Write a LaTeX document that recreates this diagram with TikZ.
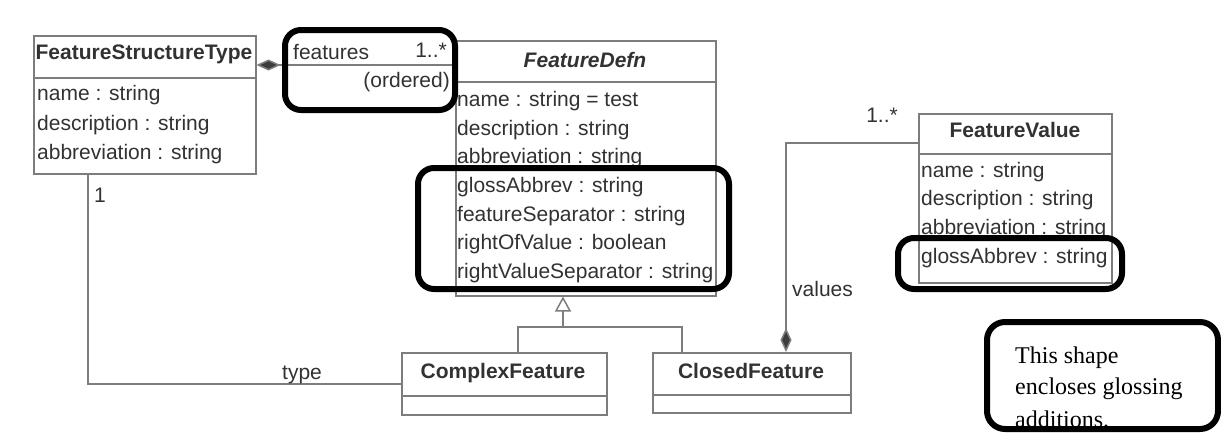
\documentclass[tikz,border=0pt]{standalone}
\usepackage{fontspec}
\setmainfont{Liberation Sans}
\newfontfamily\notefont{Liberation Serif}
\usetikzlibrary{arrows.meta,calc}
\definecolor{umlgray}{RGB}{125,125,125}
\definecolor{umltext}{RGB}{50,50,50}
\definecolor{diamondfill}{RGB}{60,60,60}
\begin{document}
\begin{tikzpicture}[x=1pt,y=-1pt,
  umlbox/.style={draw=umlgray, line width=1.5pt, fill=white, rectangle, inner sep=0pt, anchor=north west},
  umlline/.style={draw=umlgray, line width=1.5pt},
  cls/.style={font=\fontsize{21pt}{25pt}\selectfont\bfseries, text=umltext, inner sep=0pt, anchor=base},
  attr/.style={font=\fontsize{21pt}{25pt}\selectfont, text=umltext, inner sep=0pt, anchor=base west},
  lbl/.style={font=\fontsize{21pt}{25pt}\selectfont, text=umltext, inner sep=0pt},
  hilite/.style={draw=black, line width=6pt, rounded corners=16pt},
  comp/.style={{Diamond[fill=diamondfill, length=24pt, width=11pt]}-},
  gen/.style={-{Triangle[open, fill=white, length=15pt, width=16pt]}},
  notetext/.style={font=\notefont\fontsize{24pt}{31pt}\selectfont, inner sep=0pt, anchor=base west}
]
\useasboundingbox (0,0) rectangle (1221,432);

% ---------- FeatureStructureType ----------
\node[umlbox, minimum width=222pt, minimum height=138pt] (fst) at (33,35) {};
\draw[umlline] (33,78) -- (255,78);
\node[cls] (fstT) at (144,59) {FeatureStructureType};
\node[attr] (fst1) at (37,100) {name : string};
\node[attr] (fst2) at (37,130) {description : string};
\node[attr] (fst3) at (37,159) {abbreviation : string};

% ---------- FeatureDefn ----------
\node[umlbox, minimum width=260pt, minimum height=255pt] (fd) at (455,40) {};
\draw[umlline] (455,82) -- (715,82);
\node[cls, font=\fontsize{21pt}{25pt}\selectfont\bfseries\itshape] (fdT) at (585,67) {FeatureDefn};
\node[attr] (fd1) at (457,106.5) {name : string = test};
\node[attr] (fd2) at (457,135.2) {description : string};
\node[attr] (fd3) at (457,163.8) {abbreviation : string};
\node[attr] (fd4) at (457,192.5) {glossAbbrev : string};
\node[attr] (fd5) at (457,221.2) {featureSeparator : string};
\node[attr] (fd6) at (457,249.8) {rightOfValue : boolean};
\node[attr] (fd7) at (457,278.5) {rightValueSeparator : string};

% ---------- FeatureValue ----------
\node[umlbox, minimum width=193pt, minimum height=169pt] (fv) at (918,113) {};
\draw[umlline] (918,154) -- (1111,154);
\node[cls] (fvT) at (1015,137) {FeatureValue};
\node[attr] (fv1) at (921,177.5) {name : string};
\node[attr] (fv2) at (921,205.5) {description : string};
\node[attr] (fv3) at (921,234.5) {abbreviation : string};
\node[attr] (fv4) at (921,263.5) {glossAbbrev : string};

% ---------- ComplexFeature / ClosedFeature ----------
\node[umlbox, minimum width=205pt, minimum height=62pt] (cf) at (401,352) {};
\draw[umlline] (401,396) -- (606,396);
\node[cls] (cfT) at (503,378) {ComplexFeature};
\node[umlbox, minimum width=198pt, minimum height=60pt] (clf) at (652,352) {};
\draw[umlline] (652,395) -- (850,395);
\node[cls] (clfT) at (751,378) {ClosedFeature};

% ---------- connectors ----------
% features composition
\coordinate (fA) at ($(fst.north east)+(0,30)$);
\draw[umlline, comp] (fA) -- (fA -| fd.west);
\node[lbl, anchor=base west] (featL) at (293,59) {features};
\node[lbl, anchor=base east] (featM) at (447,57) {1..*};
\node[lbl, anchor=base east] (featO) at (450,87) {(ordered)};

% type association
\draw[umlline] ($(fst.south west)+(55,0)$) |- (cf.west);
\node[lbl, anchor=base west] (oneL) at (94,202) {1};
\node[lbl, anchor=base west] (typeL) at (282,379) {type};

% generalization
\coordinate (gj) at (563,327);
\draw[umlline, gen] (gj) -- (gj |- fd.south);
\draw[umlline] ($(cf.north west)+(117,0)$) |- (gj) -| ($(clf.north west)+(30,0)$);

% values composition
\draw[umlline, comp] ($(clf.north west)+(134,0)$) |- ($(fv.north west)+(0,30)$);
\node[lbl, anchor=base west] (valL) at (792,296) {values};
\node[lbl, anchor=base east] (valM) at (898,122) {1..*};

% ---------- highlight boxes ----------
\draw[hilite] (285,30) rectangle (455,110);
\draw[hilite] (418,168) rectangle (729,289);
\draw[hilite] (898,238) rectangle (1122,289);

% ---------- note ----------
\node[notetext] (n1) at (1015,363) {This shape};
\node[notetext] (n2) at (1015,394) {encloses glossing};
\node[notetext] (n3) at (1015,427) {additions.};
\draw[draw=black, line width=6pt, rounded corners=18pt] (987,322) rectangle (1218,429);
\end{tikzpicture}
\end{document}
